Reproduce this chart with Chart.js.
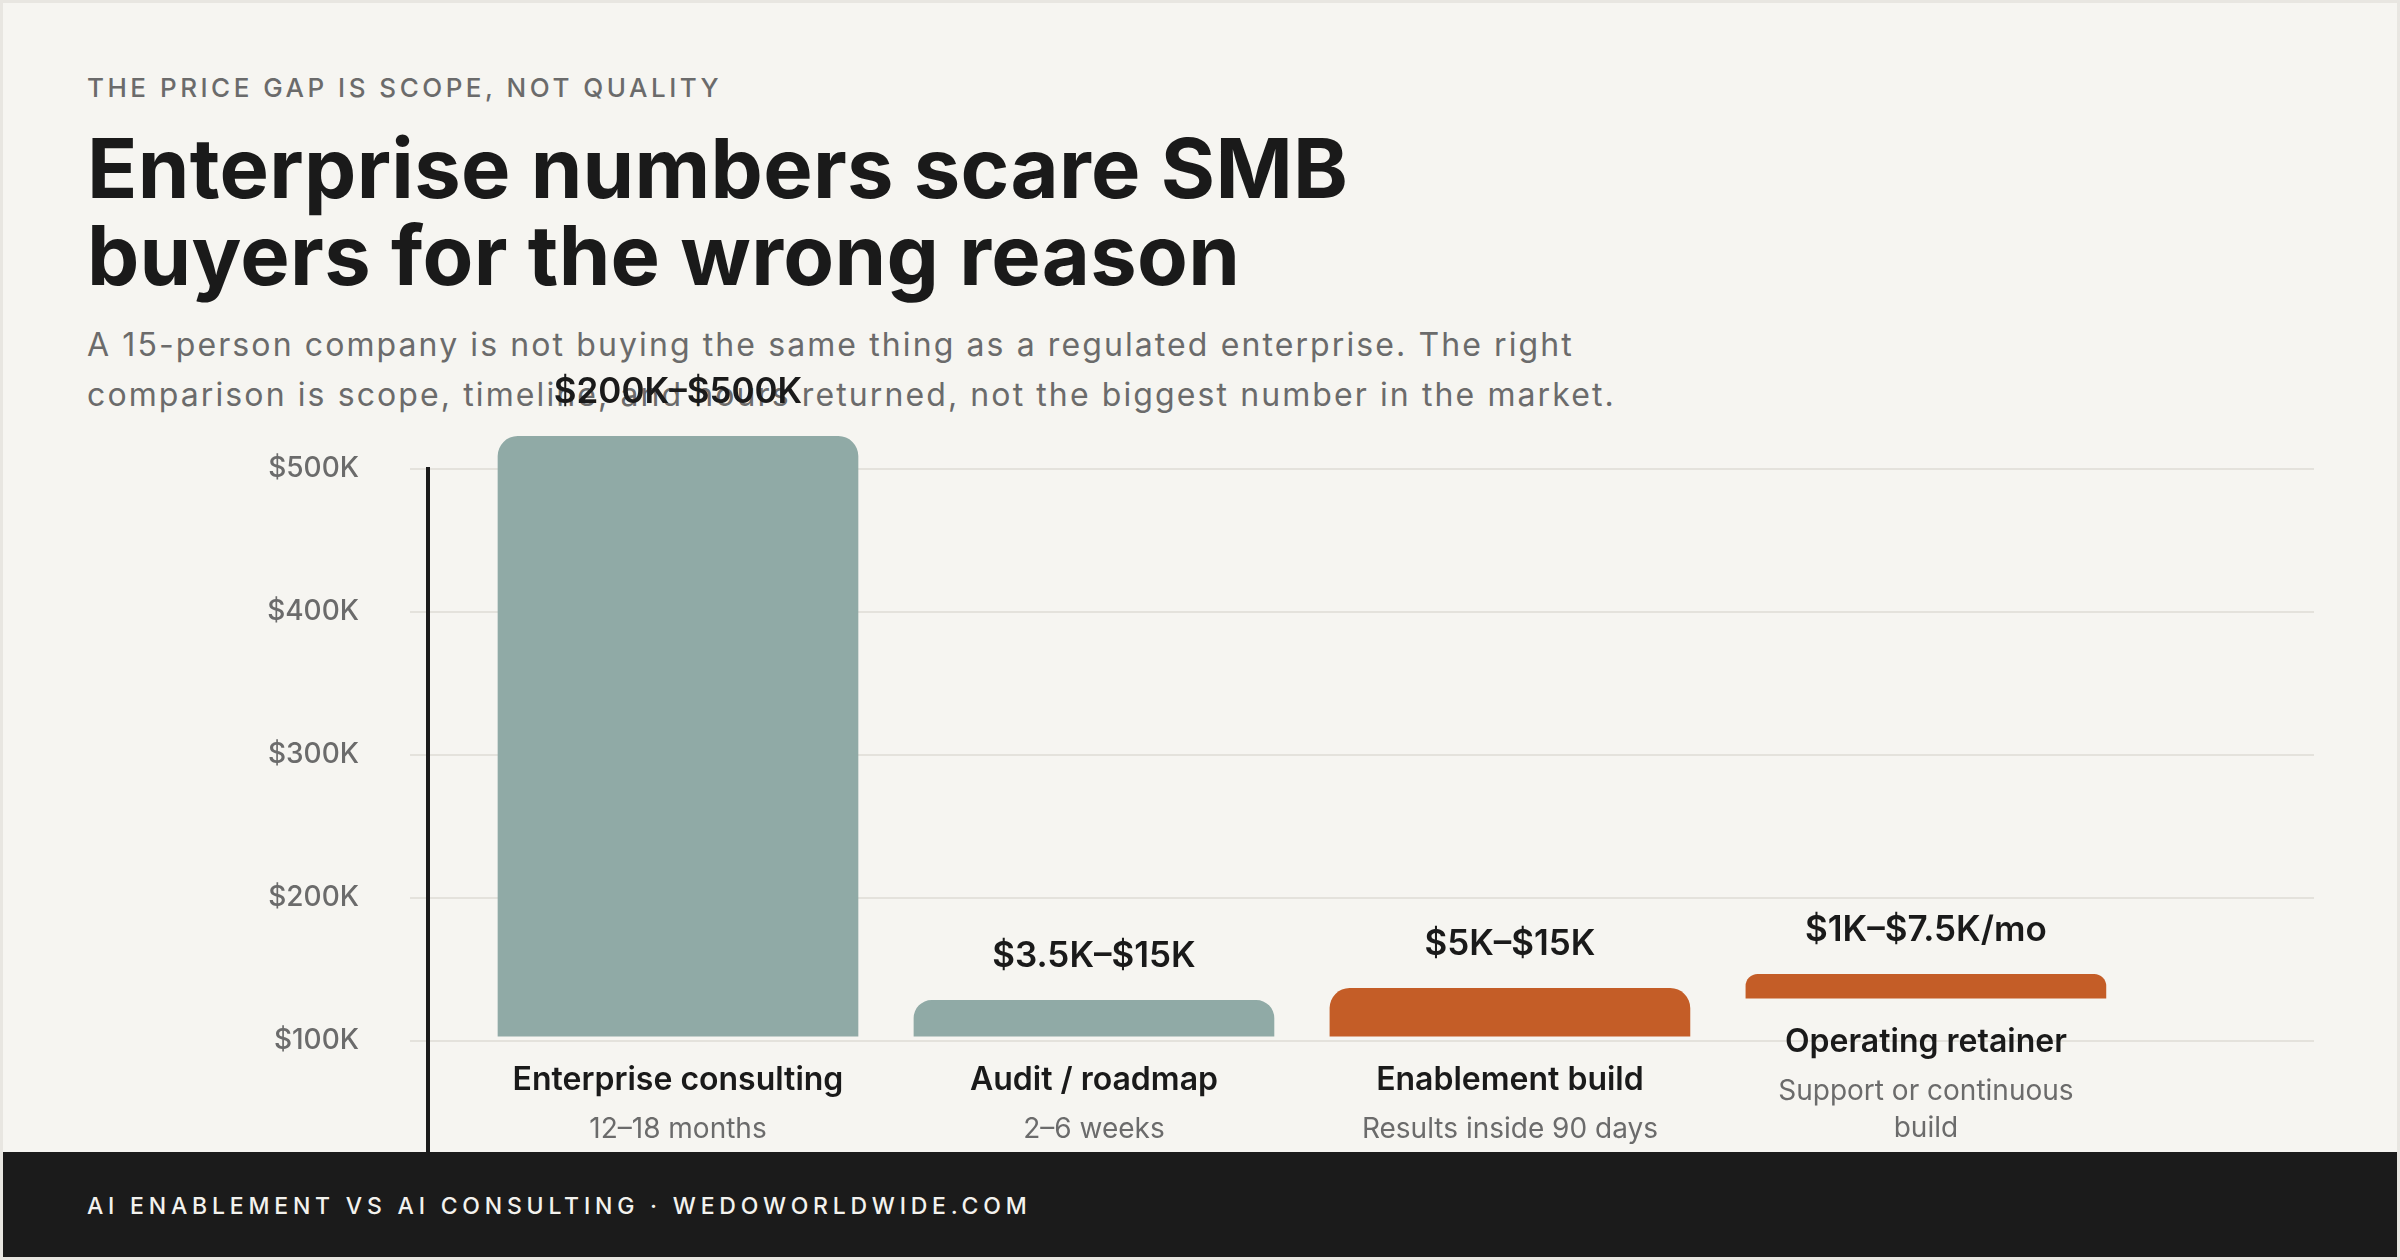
<!DOCTYPE html>
<html>
<head>
<meta charset="utf-8">
<script src="https://cdn.jsdelivr.net/npm/chart.js@4.4.1/dist/chart.umd.min.js"></script>
<style>
  html, body { margin: 0; padding: 0; }
  body { width: 2400px; height: 1260px; position: relative; overflow: hidden; background: #e8e6e1; font-family: Inter, "Noto Sans", sans-serif; }
  #card { position: absolute; left: 3px; top: 3px; right: 3px; bottom: 3px; background: #f6f5f1; }
  .t { position: absolute; left: 87px; margin: 0; white-space: nowrap; z-index: 1; }
  #eyebrow { top: 74.5px; font-size: 26px; line-height: 26px; font-weight: 500; letter-spacing: 3.5px; color: #6b6b6b; }
  #title { top: 125px; font-size: 83px; line-height: 87px; font-weight: 700; letter-spacing: 0.3px; color: #1a1a1a; }
  #sub { top: 319.5px; font-size: 32px; line-height: 50px; font-weight: 400; letter-spacing: 2.1px; color: #6b6b6b; }
  #chartWrap { position: absolute; left: 0; top: 0; width: 2400px; height: 1260px; z-index: 2; }
  #footer { position: absolute; left: 3px; right: 3px; top: 1152px; bottom: 3px; background: #1b1b1b; z-index: 3; }
  #footText { position: absolute; left: 84px; top: 43px; font-size: 23px; line-height: 23px; font-weight: 500; letter-spacing: 4.8px; color: #f3f2ee; white-space: nowrap; }
</style>
</head>
<body>
<div id="card"></div>
<p class="t" id="eyebrow">THE PRICE GAP IS SCOPE, NOT QUALITY</p>
<h1 class="t" id="title">Enterprise numbers scare SMB<br>buyers for the wrong reason</h1>
<p class="t" id="sub">A 15-person company is not buying the same thing as a regulated enterprise. The right<br>comparison is scope, timeline, and hours returned, not the biggest number in the market.</p>
<div id="chartWrap"><canvas id="c" width="2400" height="1260"></canvas></div>
<div id="footer"><div id="footText">AI ENABLEMENT VS AI CONSULTING · WEDOWORLDWIDE.COM</div></div>
<script>
// ---- data (values in $K) ----
const categories = ['Enterprise consulting', 'Audit / roadmap', 'Enablement build', 'Operating retainer'];
const priceLabels = ['$200K–$500K', '$3.5K–$15K', '$5K–$15K', '$1K–$7.5K/mo'];
const subLabels = [['12–18 months'], ['2–6 weeks'], ['Results inside 90 days'], ['Support or continuous', 'build']];
const barLow = [103.3, 103.3, 103.3, 129.9];
const barHigh = [522.8, 128.4, 136.8, 146.7];
const barColors = ['#90aaa6', '#90aaa6', '#c45d27', '#c45d27'];
const yMin = 0, yMax = 500, yStep = 100;

const FONT = 'Inter, "Noto Sans", sans-serif';

const labelPlugin = {
  id: 'barLabels',
  afterDatasetsDraw(chart) {
    const ctx = chart.ctx;
    const meta = chart.getDatasetMeta(0);
    ctx.save();
    ctx.textAlign = 'center';
    ctx.textBaseline = 'middle';
    meta.data.forEach((bar, i) => {
      const top = Math.min(bar.y, bar.base);
      const bottom = Math.max(bar.y, bar.base);
      ctx.fillStyle = '#1a1a1a';
      ctx.font = '600 35px ' + FONT;
      ctx.fillText(priceLabels[i], bar.x, top - 44);
      ctx.font = '600 32px ' + FONT;
      ctx.fillText(categories[i], bar.x, bottom + 44.5);
      ctx.fillStyle = '#6b6b6b';
      ctx.font = '400 28px ' + FONT;
      subLabels[i].forEach((line, k) => ctx.fillText(line, bar.x, bottom + 93.5 + k * 37));
    });
    ctx.restore();
  }
};

new Chart(document.getElementById('c'), {
  type: 'bar',
  data: {
    datasets: [{
      data: categories.map((c, i) => ({ x: i, y: [barLow[i] * 1000, barHigh[i] * 1000] })),
      backgroundColor: barColors,
      borderRadius: { topLeft: 20, topRight: 20, bottomLeft: 0, bottomRight: 0 },
      borderSkipped: false,
      barThickness: 360,
      clip: false
    }]
  },
  options: {
    responsive: false,
    animation: false,
    events: [],
    layout: { padding: { left: 0, top: 469, right: 86, bottom: 76 } },
    plugins: { legend: { display: false }, tooltip: { enabled: false } },
    scales: {
      x: { type: 'linear', display: false, offset: false, grid: { offset: false }, min: -0.601, max: 3.933 },
      y: {
        min: yMin * 1000, max: yMax * 1000,
        afterFit(scale) { scale.width = 428; },
        border: { display: true, color: '#1b1b1b', width: 4 },
        grid: { color: '#e4e2dc', lineWidth: 2, tickLength: 18, drawTicks: true },
        ticks: {
          stepSize: yStep * 1000,
          padding: 51,
          color: '#6b6b6b',
          font: { family: FONT, size: 28, weight: '500' },
          callback: v => v === 0 ? '' : '$' + (v / 1000) + 'K'
        }
      }
    }
  },
  plugins: [labelPlugin]
});
</script>
</body>
</html>
